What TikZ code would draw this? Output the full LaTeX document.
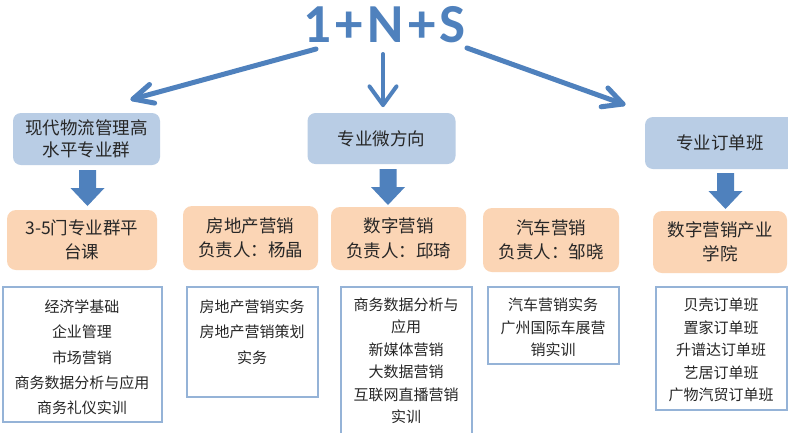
\documentclass[tikz,border=0pt]{standalone}
\usepackage{fontspec}
\newfontfamily\cjk{Noto Sans CJK SC}
\newfontfamily\titlefont{Carlito}
\usetikzlibrary{calc}
\definecolor{tblue}{HTML}{4F81BD}
\definecolor{abox}{HTML}{B9CDE5}
\definecolor{obox}{HTML}{FBD5B5}
\definecolor{wline}{HTML}{95B3D7}
\definecolor{txt}{HTML}{262626}
\tikzset{
  blockarr/.pic={\fill[tblue] (-8.5,0) -- (8.5,0) -- (8.5,18) -- (17,18) -- (0,36) -- (-17,18) -- (-8.5,18) -- cycle;},
}
\begin{document}
\begin{tikzpicture}[x=1pt,y=-1pt,
  bluebox/.style={fill=abox, rounded corners=8pt, inner sep=0pt, font=\cjk\fontsize{17.5}{22}\selectfont, text=txt, align=center},
  orangebox/.style={fill=obox, rounded corners=9pt, inner sep=0pt, font=\cjk\fontsize{17.5}{24.5}\selectfont, text=txt, align=center},
  whitebox/.style={draw=wline, line width=1.2pt, fill=white, inner sep=0pt},
  listtext/.style={font=\cjk\fontsize{15}{25.3}\selectfont, text=txt, align=center, inner sep=0pt},
  listtextb/.style={font=\cjk\fontsize{15}{22.5}\selectfont, text=txt, align=center, inner sep=0pt},
  thinarr/.style={draw=tblue, line width=5pt, line cap=round, line join=round},
]
\useasboundingbox (0,0) rectangle (788,432);
\fill[white] (0,0) rectangle (788,432);

% title
\node[font=\titlefont\bfseries\fontsize{55}{55}\selectfont, text=tblue, inner sep=0pt] (T) at (384.5,25) {1\kern4.5pt+\kern4.5pt N\kern4.5pt+\kern4.5pt S};

% top boxes
\node[bluebox, minimum width=147pt, minimum height=52pt] (A) at (86.5,139) {现代物流管理高\\水平专业群};
\node[bluebox, minimum width=148pt, minimum height=51pt] (B) at (381.5,138.5) {专业微方向};
\node[bluebox, minimum width=150pt, minimum height=52pt] (C) at (720,143) {专业订单班};

% thin arrows from title
\coordinate (s1) at (316,49);
\coordinate (t1) at (133,99);
\coordinate (s2) at (383,54);
\coordinate (t2) at (383,105);
\coordinate (s3) at (467,48);
\coordinate (t3) at (623,104);
\draw[thinarr] (s1) -- (t1);
\draw[thinarr] ($(t1)!22pt!26:(s1)$) -- (t1) -- ($(t1)!22pt!-26:(s1)$);
\draw[thinarr, line width=4pt] (s2) -- (t2);
\draw[thinarr, line width=4pt] ($(t2)!23pt!36:(s2)$) -- (t2) -- ($(t2)!23pt!-36:(s2)$);
\draw[thinarr] (s3) -- (t3);
\draw[thinarr] ($(t3)!22pt!27:(s3)$) -- (t3) -- ($(t3)!22pt!-27:(s3)$);

% block arrows
\pic at (87.5,170) {blockarr};
\pic at (388,169) {blockarr};
\pic at (725.5,173) {blockarr};

% orange boxes
\node[orangebox, minimum width=150pt, minimum height=60pt] (O1) at (82,240) {3-5门专业群平\\台课};
\node[orangebox, minimum width=135pt, minimum height=64pt] (O2) at (250.5,238) {房地产营销\\负责人：杨晶};
\node[orangebox, minimum width=135pt, minimum height=63pt] (O3) at (398.5,238.5) {数字营销\\负责人：邱琦};
\node[orangebox, minimum width=136pt, minimum height=64pt] (O4) at (551,240) {汽车营销\\负责人：邹晓};
\node[orangebox, minimum width=134pt, minimum height=62pt] (O5) at (720,242) {数字营销产业\\学院};

% white boxes
\node[whitebox, minimum width=159pt, minimum height=135pt] (W1) at (82.5,354.5) {};
\node[whitebox, minimum width=131pt, minimum height=110pt] (W2) at (252.5,342) {};
\node[whitebox, minimum width=131pt, minimum height=147pt] (W3) at (406.5,360.5) {};
\node[whitebox, minimum width=131pt, minimum height=77pt] (W4) at (553.5,325.5) {};
\node[whitebox, minimum width=131pt, minimum height=123pt] (W5) at (721.5,348.5) {};

\node[listtext] (L1) at (82,357.5) {经济学基础\\企业管理\\市场营销\\商务数据分析与应用\\商务礼仪实训};
\node[listtext] (L2) at (252,332) {房地产营销实务\\房地产营销策划\\实务};
\node[listtextb] (L3) at (406,361) {商务数据分析与\\应用\\新媒体营销\\大数据营销\\互联网直播营销\\实训};
\node[listtextb] (L4) at (553,327.5) {汽车营销实务\\广州国际车展营\\销实训};
\node[listtextb] (L5) at (721,350) {贝壳订单班\\置家订单班\\升谱达订单班\\艺居订单班\\广物汽贸订单班};
\end{tikzpicture}
\end{document}
